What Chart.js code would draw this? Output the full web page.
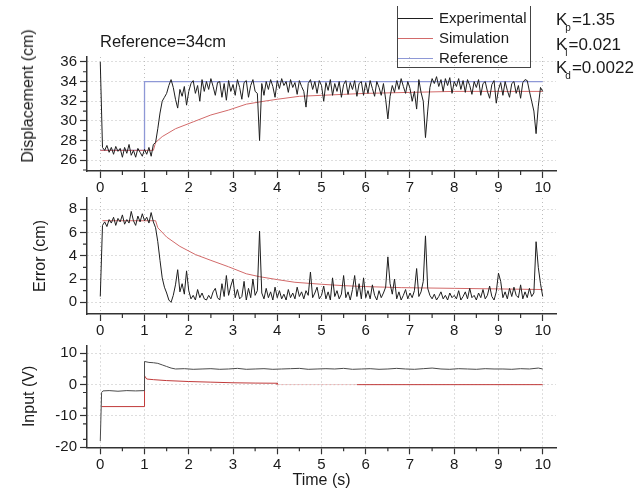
<!DOCTYPE html>
<html><head><meta charset="utf-8">
<script src="https://cdn.jsdelivr.net/npm/chart.js@4.4.1/dist/chart.umd.min.js"></script>
<style>
html,body{margin:0;padding:0;background:#fff;}
#wrap{position:relative;width:643px;height:490px;overflow:hidden;font-family:"Liberation Sans",Arial,sans-serif;color:#1a1a1a;}
#wrap canvas{position:absolute;left:0;top:0;}
.txt{position:absolute;white-space:nowrap;}
.k{font-size:17px;line-height:20px;left:556px;}
.k sub{font-size:10px;vertical-align:-6px;margin-left:-2px;margin-right:1px;}
#legend{position:absolute;left:397px;top:6px;width:132px;height:61px;border-left:1px solid #444;border-right:1px solid #444;border-bottom:1px solid #444;}
.lg{position:absolute;left:0;height:20px;width:132px;font-size:15px;line-height:20px;}
.lg span.ln{position:absolute;left:0;top:10px;width:35px;height:0;border-top:1px solid #333;}
.lg span.tx{position:absolute;left:41px;top:0;}
#ytitle1{left:28px;top:96px;font-size:16px;transform:translate(-50%,-50%) rotate(-90deg);}
</style></head><body>
<div id="wrap">
<canvas id="c1" width="643" height="490" style="width:643px;height:490px"></canvas>
<canvas id="c2" width="643" height="490" style="width:643px;height:490px"></canvas>
<canvas id="c3" width="643" height="490" style="width:643px;height:490px"></canvas>
<div class="txt" style="left:100px;top:32px;font-size:16.5px;">Reference=34cm</div>
<div id="legend"></div>
<div class="txt k" style="top:10px;">K<sub>p</sub>=1.35</div>
<div class="txt k" style="top:35px;">K<sub>i</sub>=0.021</div>
<div class="txt k" style="top:58px;">K<sub>d</sub>=0.0022</div>
<div class="txt" id="ytitle1">Displacement (cm)</div>
</div>
<script>
// ---------------- DATA ----------------
const SAMPLE_STEP = 0.05; // s, sampling of experimental displacement / error
const xTickLabels = [0,1,2,3,4,5,6,7,8,9,10];
const seriesNames = ['Experimental','Simulation','Reference'];

// Experimental displacement (cm), t = 0, 0.05, ..., 10
const dispExp = [
 36.0, 27.3, 27.0, 27.5, 26.8, 27.3, 26.6, 27.4, 26.9, 27.2,
 26.3, 27.3, 26.7, 27.6, 26.5, 27.0, 26.3, 27.2, 26.8, 26.4,
 27.1, 26.6, 27.3, 26.4, 27.6, 27.8, 29.2, 30.8, 32.0, 32.4,
 32.8, 33.6, 34.2, 33.4, 32.2, 31.3, 33.2, 32.5, 33.5, 31.6,
 33.0, 33.8, 34.1, 32.8, 33.6, 32.0, 34.2, 33.0, 34.0, 33.2,
 34.3, 33.5, 32.6, 33.9, 34.0, 32.4, 33.8, 32.1, 34.1, 33.0,
 33.7, 32.6, 34.2, 33.4, 32.2, 33.9, 34.1, 32.4, 33.6, 34.2,
 33.0, 32.8, 28.0, 33.8, 32.6, 34.0, 33.2, 34.2, 33.5, 32.4,
 34.1, 33.3, 34.3, 33.6, 34.0, 32.9, 34.2, 33.4, 33.9, 32.7,
 34.1, 33.5, 33.0, 31.4, 33.8, 34.2, 33.2, 34.0, 32.8, 34.1,
 33.6, 32.0, 33.9, 33.1, 34.2, 32.6, 33.8, 33.0, 34.0, 32.4,
 33.7, 34.1, 32.7, 33.9, 33.2, 34.1, 32.5, 33.8, 34.0, 32.6,
 33.9, 32.8, 34.1, 33.3, 32.5, 34.0, 33.4, 32.6, 33.8, 32.2,
 30.2, 32.5, 33.6, 32.9, 34.1, 33.2, 34.3, 33.5, 32.8, 34.0,
 33.3, 32.0, 33.0, 31.2, 34.2, 32.9, 32.0, 28.3, 31.0, 33.4,
 34.3, 33.8, 34.5, 33.5, 34.2, 33.0, 34.3, 33.6, 34.4, 32.8,
 34.0, 33.5, 34.3, 33.2, 34.1, 32.9, 34.2, 33.6, 32.7, 34.0,
 33.4, 34.2, 32.6, 33.8, 34.0, 33.0, 32.3, 33.7, 34.1, 31.8,
 33.2, 33.9, 32.6, 34.0, 33.1, 32.4, 33.8, 34.0, 32.8, 33.6,
 32.3, 33.9, 34.2, 34.1, 33.0, 32.0, 31.0, 28.7, 31.5, 33.4,
 33.0
];

// Experimental error (cm), same sampling
const errExp = [
 0.5, 6.6, 6.9, 6.5, 7.1, 6.8, 7.3, 6.6, 7.2, 6.9,
 7.5, 6.7, 7.1, 6.8, 7.8, 7.0, 6.6, 7.4, 6.9, 7.6,
 7.0, 7.3, 6.8, 7.7, 6.9, 6.4, 5.2, 3.6, 2.1, 1.3,
 0.8, 0.2, 0.0, 0.6, 1.5, 2.8, 0.9, 1.6, 0.7, 2.7,
 1.0, 0.3, 0.6, 0.2, 1.1, 0.4, 0.8, 0.3, 0.2, 0.6,
 0.3, 0.9, 1.2, 0.4, 0.2, 1.6, 0.5, 2.3, 0.6, 1.4,
 2.0, 0.4, 1.1, 0.3, 0.5, 1.8, 0.2, 1.2, 0.4, 2.0,
 0.6, 1.0, 6.1, 0.8, 0.3, 1.2, 0.4, 0.9, 0.2, 1.3,
 0.4, 1.0, 0.3, 0.7, 0.2, 1.1, 0.4, 0.8, 0.3, 1.3,
 0.5, 0.9, 0.3, 1.0, 0.6, 2.6, 0.4, 0.8, 1.3, 0.3,
 0.6, 1.4, 0.3, 0.9, 0.2, 2.1, 0.5, 1.0, 0.3, 0.7,
 2.3, 0.4, 0.9, 0.2, 1.1, 2.3, 0.5, 1.6, 0.3, 2.1,
 0.4, 1.0, 0.3, 1.5, 0.6, 0.2, 1.0, 0.4, 0.8, 1.3,
 3.9, 1.6, 0.7, 2.0, 0.3, 0.9, 0.2, 0.6, 1.1, 0.3,
 0.8, 0.4, 1.0, 2.9, 0.5, 0.9, 1.8, 5.7, 1.2, 0.6,
 0.3, 0.7, 0.2, 0.5, 0.9, 0.3, 0.6, 0.2, 0.8, 0.4,
 0.6, 0.3, 1.0, 0.2, 0.5, 0.9, 0.3, 1.2, 0.4, 0.6,
 0.2, 0.8, 0.4, 1.1, 0.3, 0.6, 1.4, 0.5, 0.2, 0.9,
 2.5, 1.8, 0.4, 0.9, 0.3, 1.2, 0.5, 1.3, 0.6, 0.4,
 1.5, 0.3, 0.9, 0.4, 1.2, 0.5, 0.8, 5.2, 3.0, 1.6,
 0.5
];

// Simulated displacement (cm)
const simDispT = [0, 1.2, 1.25, 1.4, 1.7, 2.1, 2.5, 2.9, 3.3, 3.7, 4.0, 4.5, 5.0, 5.5, 6.0, 7.0, 8.0, 9.0, 10.0];
const simDisp  = [27.0, 27.0, 27.8, 28.4, 29.2, 29.9, 30.6, 31.1, 31.7, 32.0, 32.2, 32.5, 32.6, 32.7, 32.8, 32.9, 33.0, 33.0, 33.0];

// Reference displacement (cm)
const refT = [0, 1.0, 1.0, 10.0];
const refDisp = [27, 27, 34, 34];

// Simulated error (cm)
const simErrT = [0.05, 1.25, 1.3, 1.5, 1.8, 2.15, 2.5, 2.9, 3.3, 3.6, 4.0, 4.4, 5.0, 5.5, 6.0, 6.8, 8.0, 9.0, 10.0];
const simErr  = [7.0, 7.0, 6.4, 5.6, 4.8, 4.1, 3.6, 3.05, 2.45, 2.2, 1.95, 1.72, 1.55, 1.43, 1.35, 1.26, 1.2, 1.15, 1.1];

// Experimental input (V)
const inExpT = [0, 0.03, 0.06, 0.2, 0.4, 0.6, 0.8, 0.99,
  1.0, 1.1, 1.2, 1.3, 1.4, 1.5, 1.6, 1.7,
  1.9, 2.1, 2.3, 2.5, 2.7, 2.9, 3.1, 3.3, 3.5, 3.7, 3.9, 4.1, 4.3, 4.5, 4.7, 4.9, 5.1, 5.3, 5.5, 5.7,
  5.9, 6.1, 6.3, 6.5, 6.7, 6.9, 7.1, 7.3, 7.5, 7.7, 7.9, 8.1, 8.3, 8.5, 8.7, 8.9, 9.1, 9.3, 9.5, 9.7, 9.9, 10.0];
const inExp = [-18, -2.5, -2.0, -1.9, -2.1, -1.9, -2.0, -1.9,
  7.4, 7.1, 7.0, 6.8, 6.3, 5.8, 5.3, 5.0,
  5.1, 4.9, 5.0, 5.1, 4.9, 5.0, 5.2, 4.9, 5.0, 5.1, 4.9, 5.0, 5.1, 5.2, 4.9, 5.0, 5.1, 5.0, 5.2, 4.9,
  5.0, 5.1, 4.9, 5.0, 5.2, 5.0, 4.9, 5.1, 5.3, 5.0, 4.9, 5.1, 5.0, 4.9, 5.1, 5.0, 5.0, 4.9, 5.1, 5.0, 5.3, 5.0];

// Simulated input (V)
const inSimT = [0.03, 1.0, 1.0, 1.05, 1.2, 1.5, 2.0, 2.5, 3.0, 3.5, 4.0, 4.0, 5.8, 10.0];
const inSim  = [-7, -7, 2.8, 1.8, 1.6, 1.3, 1.0, 0.8, 0.6, 0.5, 0.45, 0, 0, 0];

// Axis ranges and ticks
const X_RANGE = [-0.3, 10.3];
const X_MINOR = [0.5,1.5,2.5,3.5,4.5,5.5,6.5,7.5,8.5,9.5];
const Y1 = {min:24.9, max:36.5, step:2, minor:[25,27,29,31,33,35]};
const Y2 = {min:-1, max:8.95, step:2, minor:[1,3,5,7]};
const Y3 = {min:-20, max:12.5, step:5, minor:[-17.5,-12.5,-7.5,-2.5,2.5,7.5]};

// ---------------- DRAWING ----------------
const FONT = '"Liberation Sans", Arial, sans-serif';
Chart.defaults.font.family = FONT;
Chart.defaults.color = '#1a1a1a';
const COL = {exp:'#1e1e1e', sim:'#d26a6a', ref:'#8e98d6', inExp:'#4a4a4a', inSim:'#c03a3a', faint:'#e6aaaa'};

const pts = (xs, ys) => ys.map((y, i) => ({x: xs[i], y}));
const tGrid = dispExp.map((_, i) => Math.round(i * SAMPLE_STEP * 100) / 100);

const minorTicks = {
  id: 'minorTicks',
  afterDraw(chart, args, o) {
    const {ctx, chartArea:{left, bottom}} = chart;
    const xs = chart.scales.x, ys = chart.scales.y;
    ctx.save(); ctx.strokeStyle = '#333'; ctx.lineWidth = 1.2; ctx.beginPath();
    (o.x || []).forEach(v => { const p = xs.getPixelForValue(v); ctx.moveTo(p, bottom); ctx.lineTo(p, bottom + 4); });
    (o.y || []).forEach(v => { const p = ys.getPixelForValue(v); ctx.moveTo(left, p); ctx.lineTo(left - 4, p); });
    ctx.stroke(); ctx.restore();
  }
};

function axisCommon() {
  return {
    grid: {color:'#bdbdbd', lineWidth:1, tickLength:7, tickColor:'#333', tickWidth:1.2},
    border: {color:'#333', width:1.5, dash:[1,3]},
  };
}

function makeChart(id, datasets, c) {
  const xc = axisCommon(), yc = axisCommon();
  return new Chart(document.getElementById(id), {
    type: 'line',
    data: {datasets},
    options: {
      responsive: false, animation: false, devicePixelRatio: 1,
      layout: {padding: c.padding},
      plugins: {legend:{display:false}, tooltip:{enabled:false}, minorTicks:{x:X_MINOR, y:c.y.minor}},
      elements: {point:{radius:0}, line:{borderWidth:1, tension:0}},
      scales: {
        x: Object.assign(xc, {
          type:'linear', min:X_RANGE[0], max:X_RANGE[1],
          afterFit: s => { s.height = c.xH; },
          afterBuildTicks: s => { s.ticks = xTickLabels.map(v => ({value:v})); },
          ticks: {stepSize:1, includeBounds:false, padding:c.xPad, maxRotation:0, autoSkip:false, font:{size:15}},
          title: c.xTitle ? {display:true, text:c.xTitle, padding:0, font:{size:16}} : {display:false}
        }),
        y: Object.assign(yc, {
          min:c.y.min, max:c.y.max,
          afterFit: s => { s.width = c.yW; },
          ticks: {stepSize:c.y.step, includeBounds:false, padding:3, font:{size:15}},
          title: c.yTitle ? {display:true, text:c.yTitle, padding:0, font:{size:16}} : {display:false}
        })
      }
    },
    plugins: [minorTicks]
  });
}

const ch1 = makeChart('c1', [
  {label:seriesNames[0], data:pts(tGrid, dispExp), borderColor:COL.exp, borderWidth:1},
  {label:seriesNames[1], data:pts(simDispT, simDisp), borderColor:COL.sim, borderWidth:1},
  {label:seriesNames[2], data:pts(refT, refDisp), borderColor:COL.ref, borderWidth:1.3}
], {padding:{left:47, right:87, top:57, bottom:289}, xH:30, yW:40, xPad:1, y:Y1});

makeChart('c2', [
  {label:seriesNames[0], data:pts(tGrid, errExp), borderColor:COL.exp, borderWidth:1},
  {label:seriesNames[1], data:pts(simErrT, simErr), borderColor:COL.sim, borderWidth:1}
], {padding:{left:31.4, right:87, top:198, bottom:146}, xH:30, yW:55.6, xPad:1, y:Y2, yTitle:'Error (cm)'});

makeChart('c3', [
  {label:seriesNames[0], data:pts(inExpT, inExp), borderColor:COL.inExp, borderWidth:1},
  {label:seriesNames[1], data:pts(inSimT, inSim), borderColor:COL.inSim, borderWidth:1,
   segment:{
     borderColor: ctx => (ctx.p0.parsed.x >= 4 && ctx.p1.parsed.x <= 5.8 && ctx.p0.parsed.x < ctx.p1.parsed.x) ? COL.faint : undefined,
     borderDash: ctx => (ctx.p0.parsed.x >= 4 && ctx.p1.parsed.x <= 5.8 && ctx.p0.parsed.x < ctx.p1.parsed.x) ? [2,2] : undefined
   }}
], {padding:{left:20.4, right:87, top:345.5, bottom:0}, xH:42.7, yW:66.6, xPad:2, y:Y3, yTitle:'Input (V)', xTitle:'Time (s)'});

// HTML legend built from the top chart's datasets
const lg = document.getElementById('legend');
ch1.data.datasets.forEach((ds, i) => {
  const row = document.createElement('div');
  row.className = 'lg';
  row.style.top = (2 + i * 20) + 'px';
  const ln = document.createElement('span'); ln.className = 'ln'; ln.style.borderTopColor = ds.borderColor;
  const tx = document.createElement('span'); tx.className = 'tx'; tx.textContent = ds.label;
  row.appendChild(ln); row.appendChild(tx); lg.appendChild(row);
});
</script>
</body></html>
